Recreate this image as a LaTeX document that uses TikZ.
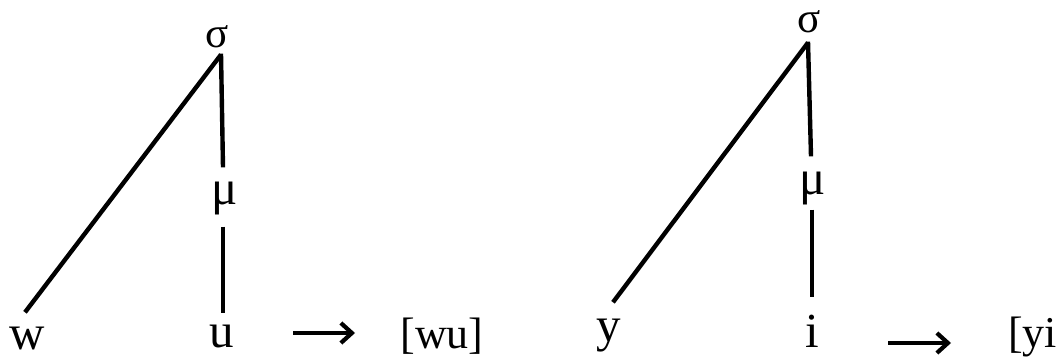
\documentclass[tikz,border=0pt]{standalone}
\usepackage{fontspec}
\setmainfont{Liberation Serif}
\usetikzlibrary{arrows.meta}
\begin{document}
\begin{tikzpicture}[x=1pt,y=1pt,
  lbl/.style={inner sep=0pt,anchor=base,font=\fontsize{49}{52}\selectfont},
  grk/.style={inner sep=0pt,anchor=base,font=\fontsize{43}{46}\selectfont},
  brk/.style={inner sep=0pt,anchor=base,font=\fontsize{44}{48}\selectfont},
  edge/.style={line width=4.4pt},
  rarrow/.style={line width=4.2pt,-{Straight Barb[length=11pt,width=20pt]}}]
\useasboundingbox (0,0) rectangle (1060,359);
% left tree
\node[grk] (sL) at (217,311) {σ};
\node[lbl] (mL) at (225,154) {μ};
\node[lbl] (w) at (27,10) {w};
\node[lbl] (u) at (222,12) {u};
\node[brk] (wu) at (442,11) {[wu]};
\draw[edge] ([xshift=4pt,yshift=-6pt]sL.south) -- ([xshift=-2pt,yshift=14pt]w.north);
\draw[edge] ([xshift=4pt,yshift=-5pt]sL.south) -- ([xshift=-2pt,yshift=15pt]mL.north);
\draw[edge] ([xshift=-2pt,yshift=-11pt]mL.south) -- ([xshift=1pt,yshift=11pt]u.north);
\coordinate (aL) at (293,26);
\draw[rarrow] (aL) -- ([xshift=62pt]aL);
% right tree
\node[grk] (sR) at (809,326) {σ};
\node[lbl] (mR) at (813,164) {μ};
\node[lbl] (y) at (609,18) {y};
\node[lbl] (i) at (812,12) {i};
\node[brk,anchor=base west] (yi) at (1008,12) {[yi};
\draw[edge] ([xshift=-1pt,yshift=-9pt]sR.south) -- ([xshift=4pt,yshift=16pt]y.north);
\draw[edge] ([xshift=-1pt,yshift=-8pt]sR.south) -- ([xshift=-2pt,yshift=16pt]mR.north);
\draw[edge] ([xshift=-1pt,yshift=-4pt]mR.south) -- ([yshift=17pt]i.north);
\coordinate (aR) at (888,16);
\draw[rarrow] (aR) -- ([xshift=63pt]aR);
\end{tikzpicture}
\end{document}
